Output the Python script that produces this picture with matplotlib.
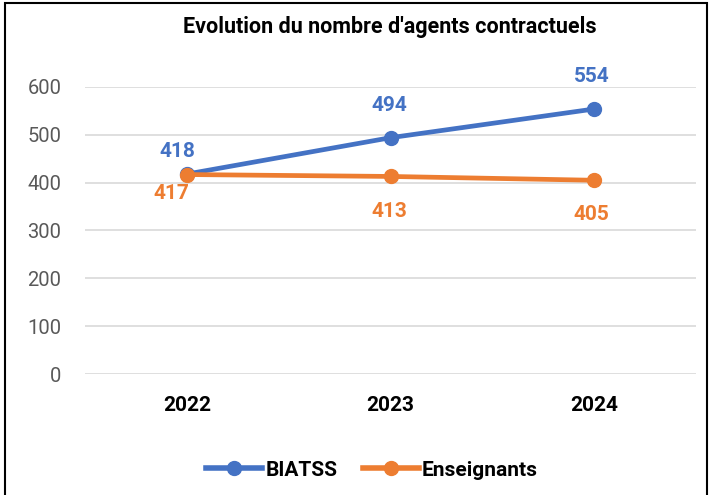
import matplotlib
matplotlib.use("Agg")
import matplotlib.pyplot as plt
from matplotlib.patches import Rectangle

plt.rcParams['font.family'] = ['Roboto', 'DejaVu Sans']

years = ["2022", "2023", "2024"]
biatss = [418, 494, 554]
enseignants = [417, 413, 405]
title = "Evolution du nombre d'agents contractuels"

blue = "#4472C4"
orange = "#ED7D31"

fig = plt.figure(figsize=(7.11, 4.95), dpi=100)
ax = fig.add_axes([85/711, 1-374/495, (696-85)/711, (374-87)/495])

x = list(range(len(years)))
ax.plot(x, biatss, color=blue, lw=3.4, marker='o', ms=10, label="BIATSS", clip_on=False, zorder=3)
ax.plot(x, enseignants, color=orange, lw=3.4, marker='o', ms=10, label="Enseignants", clip_on=False, zorder=4)

ax.set_xlim(-0.5, 2.5)
ax.set_ylim(0, 600)
ax.set_yticks(range(0, 601, 100))
ax.grid(axis='y', color='#D9D9D9', lw=1.2)
ax.set_axisbelow(True)
for s in ax.spines.values():
    s.set_visible(False)
ax.tick_params(axis='both', length=0)
ax.tick_params(axis='y', labelsize=14.5, labelcolor='#595959', pad=17)
ax.set_xticks(x)
ax.set_xticklabels(years, fontsize=15, fontweight='bold', color='black')
ax.tick_params(axis='x', pad=16)

# data labels
b_off = [(-7, 16.5), (-1, 23.5), (-2, 23.5)]
e_off = [(-11, -13.5), (-1, -25), (-2, -25)]
for i in x:
    ax.annotate(str(biatss[i]), (i, biatss[i]), xytext=b_off[i], textcoords='offset points',
                ha='center', va='center', fontsize=15, fontweight='bold', color=blue)
    ax.annotate(str(enseignants[i]), (i, enseignants[i]), xytext=e_off[i], textcoords='offset points',
                ha='center', va='center', fontsize=15, fontweight='bold', color=orange)

fig.text(390/711, 1-27/495, title, ha='center', va='center', fontsize=15.5, fontweight='bold')

leg = fig.legend(loc='center', bbox_to_anchor=(372/711, 1-470/495), ncol=2, frameon=False,
                 prop={'size': 15, 'weight': 'bold'}, handlelength=2.7, columnspacing=1.2,
                 handletextpad=0.15)
for h in leg.legend_handles:
    h.set_linewidth(4)

fig.add_artist(Rectangle((5/711, -0.1), (707-5)/711, 1.1 - 3/495, transform=fig.transFigure,
                         fill=False, edgecolor='black', lw=1.5))

fig.savefig("out.png", dpi=100)
